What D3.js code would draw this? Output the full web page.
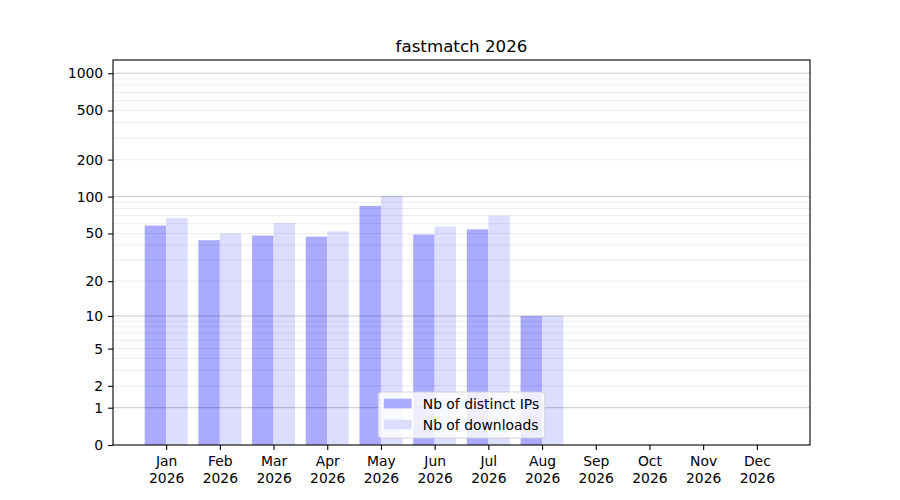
<!DOCTYPE html>
<html>
<head>
<meta charset="utf-8">
<script src="https://cdn.jsdelivr.net/npm/d3@7"></script>
<style>
  body { margin: 0; background: #fff; }
  svg text { font-family: "DejaVu Sans", sans-serif; fill: #000; }
</style>
</head>
<body>
<div id="chart"></div>
<script>
'use strict';

// data
var months = ['Jan', 'Feb', 'Mar', 'Apr', 'May', 'Jun', 'Jul', 'Aug', 'Sep', 'Oct', 'Nov', 'Dec'];
var year = '2026';
var distinctIPs = [58, 44, 48, 47, 84, 49, 54, 10, 0, 0, 0, 0];
var downloads = [67, 50, 61, 52, 102, 57, 70, 10, 0, 0, 0, 0];
var yTickValues = [0, 1, 2, 5, 10, 20, 50, 100, 200, 500, 1000];
var majorGrid = [1, 10, 100, 1000];
var minorGrid = [2, 3, 4, 5, 6, 7, 8, 9, 20, 30, 40, 50, 60, 70, 80, 90,
                 200, 300, 400, 500, 600, 700, 800, 900];
var seriesNames = ['Nb of distinct IPs', 'Nb of downloads'];

var width = 900, height = 500;
// plot area edges (window.top is taken, so prefix them)
var plotLeft = 113, plotRight = 810, plotTop = 60, plotBottom = 445;
var fontSize = 13.9;

var svg = d3.select('#chart').append('svg')
  .attr('width', width)
  .attr('height', height);

// x: month index 1..12, y: symlog (log10(1+x) shape)
var x = d3.scaleLinear().domain([0.01, 12.99]).range([plotLeft, plotRight]);
var y = d3.scaleSymlog().constant(1).domain([0, 1279]).range([plotBottom, plotTop]);

//Bars, drawn first so the grid sits over them.
var bars = svg.append('g');
bars.selectAll('rect.ips')
  .data(distinctIPs)
  .enter().append('rect')
  .attr('class', 'ips')
  .attr('x', function (d, i) { return x(i + 1 - 0.4); })
  .attr('width', function (d, i) { return x(i + 1) - x(i + 1 - 0.4); })
  .attr('y', function (d) { return y(d); })
  .attr('height', function (d) { return y(0) - y(d); })
  .attr('fill', '#aaaaff');

bars.selectAll('rect.dl')
  .data(downloads)
  .enter().append('rect')
  .attr('class', 'dl')
  .attr('x', function (d, i) { return x(i + 1); })
  .attr('width', function (d, i) { return x(i + 1 + 0.4) - x(i + 1); })
  .attr('y', function (d) { return y(d); })
  .attr('height', function (d) { return y(0) - y(d); })
  .attr('fill', '#ddddff');

// grid
var grid = svg.append('g');
grid.selectAll('line.minor')
  .data(minorGrid)
  .enter().append('line')
  .attr('class', 'minor')
  .attr('x1', plotLeft).attr('x2', plotRight)
  .attr('y1', function (d) { return y(d); })
  .attr('y2', function (d) { return y(d); })
  .attr('stroke', '#000').attr('stroke-opacity', 0.075).attr('stroke-width', 1);

grid.selectAll('line.major')
  .data(majorGrid)
  .enter().append('line')
  .attr('class', 'major')
  .attr('x1', plotLeft).attr('x2', plotRight)
  .attr('y1', function (d) { return y(d); })
  .attr('y2', function (d) { return y(d); })
  .attr('stroke', '#000').attr('stroke-opacity', 0.22).attr('stroke-width', 1);

// axes
var xAxis = d3.axisBottom(x)
  .tickValues(d3.range(1, 13))
  .tickSize(4.9)
  .tickPadding(4.9)
  .tickFormat(function (d) { return months[d - 1]; });

var gx = svg.append('g')
  .attr('transform', 'translate(0,' + plotBottom + ')')
  .call(xAxis);
gx.select('.domain').remove();
gx.selectAll('.tick line').attr('stroke-width', 1.1);
gx.selectAll('.tick text')
  .attr('font-size', fontSize)
  .attr('font-family', 'DejaVu Sans')
  .attr('dy', null)
  .attr('y', 20.8)
  .each(function (d) {
    d3.select(this).append('tspan')
      .attr('x', 0)
      .attr('dy', 16.7)
      .text(year);
  });

var yAxis = d3.axisLeft(y)
  .tickValues(yTickValues)
  .tickSize(4.9)
  .tickPadding(4.9)
  .tickFormat(d3.format('d'));

var gy = svg.append('g')
  .attr('transform', 'translate(' + plotLeft + ',0)')
  .call(yAxis);
gy.select('.domain').remove();
gy.selectAll('.tick line').attr('stroke-width', 1.1);
gy.selectAll('.tick text')
  .attr('font-size', fontSize)
  .attr('font-family', 'DejaVu Sans');

// frame
svg.append('rect')
  .attr('x', plotLeft).attr('y', plotTop)
  .attr('width', plotRight - plotLeft).attr('height', plotBottom - plotTop)
  .attr('fill', 'none')
  .attr('stroke', '#000')
  .attr('stroke-width', 1.1);

// title
svg.append('text')
  .attr('x', (plotLeft + plotRight) / 2)
  .attr('y', 51.7)
  .attr('text-anchor', 'middle')
  .attr('font-size', 16.7)
  .text('fastmatch 2026');

// legend, lower center
var legendColors = ['#aaaaff', '#ddddff'];
var legend = svg.append('g');
var pad = 5.6, handleLen = 27.8, handleGap = 11.1, rowH = 21;

var legendBox = legend.append('rect')
  .attr('rx', 3).attr('ry', 3)
  .attr('fill', '#fff').attr('fill-opacity', 0.8)
  .attr('stroke', '#ccc').attr('stroke-opacity', 0.8)
  .attr('stroke-width', 1);

var labels = [];
seriesNames.forEach(function (name, i) {
  legend.append('rect')
    .attr('x', pad)
    .attr('y', pad + 1.1 + i * rowH)
    .attr('width', handleLen)
    .attr('height', 9.7)
    .attr('fill', legendColors[i]);
  labels.push(legend.append('text')
    .attr('x', pad + handleLen + handleGap)
    .attr('y', pad + 11 + i * rowH)
    .attr('font-size', fontSize)
    .text(name));
});

var textW = d3.max(labels, function (t) { return t.node().getComputedTextLength(); });
var boxW = pad + handleLen + handleGap + textW + pad;
var boxH = 46;
legendBox.attr('width', boxW).attr('height', boxH);
legend.attr('transform', 'translate(' + ((plotLeft + plotRight) / 2 - boxW / 2) + ',' + (plotBottom - 7 - boxH) + ')');
</script>
</body>
</html>
